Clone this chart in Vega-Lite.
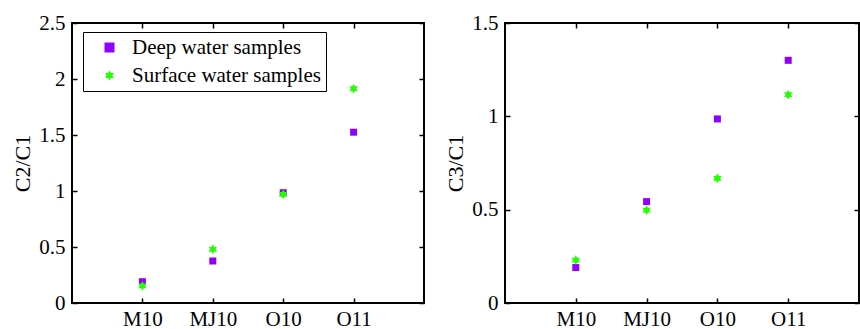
{
  "$schema": "https://vega.github.io/schema/vega-lite/v6.json",
  "padding": {"left": 10, "top": 11, "right": 0, "bottom": 0},
  "background": "white",
  "config": {
    "font": "Liberation Serif",
    "view": {"stroke": "black", "strokeWidth": 2},
    "axis": {
      "domain": false,
      "grid": false,
      "tickColor": "black",
      "tickSize": -5,
      "tickWidth": 1.5,
      "labelColor": "black",
      "labelFont": "Liberation Serif",
      "labelFontSize": 21,
      "titleFont": "Liberation Serif",
      "titleFontSize": 22,
      "titleFontWeight": "normal",
      "titleColor": "black"
    }
  },
  "datasets": {
    "d": [
      {"sample": "M10", "type": "Deep water samples", "c2c1": 0.19, "c3c1": 0.19},
      {"sample": "MJ10", "type": "Deep water samples", "c2c1": 0.375, "c3c1": 0.543},
      {"sample": "O10", "type": "Deep water samples", "c2c1": 0.985, "c3c1": 0.986},
      {"sample": "O11", "type": "Deep water samples", "c2c1": 1.525, "c3c1": 1.3},
      {"sample": "M10", "type": "Surface water samples", "c2c1": 0.152, "c3c1": 0.23},
      {"sample": "MJ10", "type": "Surface water samples", "c2c1": 0.479, "c3c1": 0.497},
      {"sample": "O10", "type": "Surface water samples", "c2c1": 0.97, "c3c1": 0.668},
      {"sample": "O11", "type": "Surface water samples", "c2c1": 1.914, "c3c1": 1.116}
    ]
  },
  "resolve": {"legend": {"color": "independent", "shape": "independent"}},
  "spacing": 17,
  "hconcat": [
    {
      "width": 352,
      "height": 280,
      "data": {"name": "d"},
      "resolve": {"axis": {"x": "independent", "y": "independent"}},
      "layer": [
        {
          "mark": {"type": "point", "filled": true, "opacity": 1},
          "encoding": {
            "x": {"field": "sample", "type": "ordinal", "scale": {"type": "point", "domain": ["M10", "MJ10", "O10", "O11"], "padding": 1}, "axis": {"title": null, "labelAngle": 0, "labelPadding": 10}},
            "y": {"field": "c2c1", "type": "quantitative", "scale": {"domain": [0, 2.5], "nice": false, "zero": false}, "axis": {"title": "C2/C1", "values": [0, 0.5, 1, 1.5, 2, 2.5], "labelExpr": "'' + datum.value", "labelPadding": 12, "titlePadding": 4}},
            "size": {"field": "type", "type": "nominal", "scale": {"domain": ["Deep water samples", "Surface water samples"], "range": [49, 90]}, "legend": null},
            "color": {"field": "type", "type": "nominal", "scale": {"domain": ["Deep water samples", "Surface water samples"], "range": ["#8f00ff", "#22ff00"]},
              "legend": {"orient": "none", "legendX": 11, "legendY": 9, "title": null, "strokeColor": "black", "fillColor": "white", "padding": 5, "labelFontSize": 21, "labelFont": "Liberation Serif", "labelColor": "black", "labelLimit": 0, "symbolSize": 100, "symbolOffset": 11, "labelOffset": 12, "rowPadding": 6}},
            "shape": {"field": "type", "type": "nominal", "scale": {"domain": ["Deep water samples", "Surface water samples"], "range": ["square", "M0,-1L0.289,-0.5L0.866,-0.5L0.577,0L0.866,0.5L0.289,0.5L0,1L-0.289,0.5L-0.866,0.5L-0.577,0L-0.866,-0.5L-0.289,-0.5Z"]},
              "legend": {"orient": "none", "legendX": 11, "legendY": 9, "title": null, "strokeColor": "black", "fillColor": "white", "padding": 5, "labelFontSize": 21, "labelFont": "Liberation Serif", "labelColor": "black", "labelLimit": 0, "symbolSize": 100, "symbolOffset": 11, "labelOffset": 12, "rowPadding": 6}}
          }
        },
        {
          "mark": {"type": "point", "opacity": 0},
          "encoding": {
            "x": {"field": "sample", "type": "ordinal", "axis": {"orient": "top", "labels": false, "title": null}},
            "y": {"field": "c2c1", "type": "quantitative", "axis": {"orient": "right", "labels": false, "title": null, "values": [0, 0.5, 1, 1.5, 2, 2.5]}}
          }
        }
      ]
    },
    {
      "width": 354,
      "height": 280,
      "data": {"name": "d"},
      "resolve": {"axis": {"x": "independent", "y": "independent"}},
      "layer": [
        {
          "mark": {"type": "point", "filled": true, "opacity": 1},
          "encoding": {
            "x": {"field": "sample", "type": "ordinal", "scale": {"type": "point", "domain": ["M10", "MJ10", "O10", "O11"], "padding": 1}, "axis": {"title": null, "labelAngle": 0, "labelPadding": 10}},
            "y": {"field": "c3c1", "type": "quantitative", "scale": {"domain": [0, 1.5], "nice": false, "zero": false}, "axis": {"title": "C3/C1", "values": [0, 0.5, 1, 1.5], "labelExpr": "'' + datum.value", "labelPadding": 12, "titlePadding": 4}},
            "size": {"field": "type", "type": "nominal", "legend": null},
            "color": {"field": "type", "type": "nominal", "legend": null},
            "shape": {"field": "type", "type": "nominal", "legend": null}
          }
        },
        {
          "mark": {"type": "point", "opacity": 0},
          "encoding": {
            "x": {"field": "sample", "type": "ordinal", "axis": {"orient": "top", "labels": false, "title": null}},
            "y": {"field": "c3c1", "type": "quantitative", "axis": {"orient": "right", "labels": false, "title": null, "values": [0, 0.5, 1, 1.5]}}
          }
        }
      ]
    }
  ]
}
